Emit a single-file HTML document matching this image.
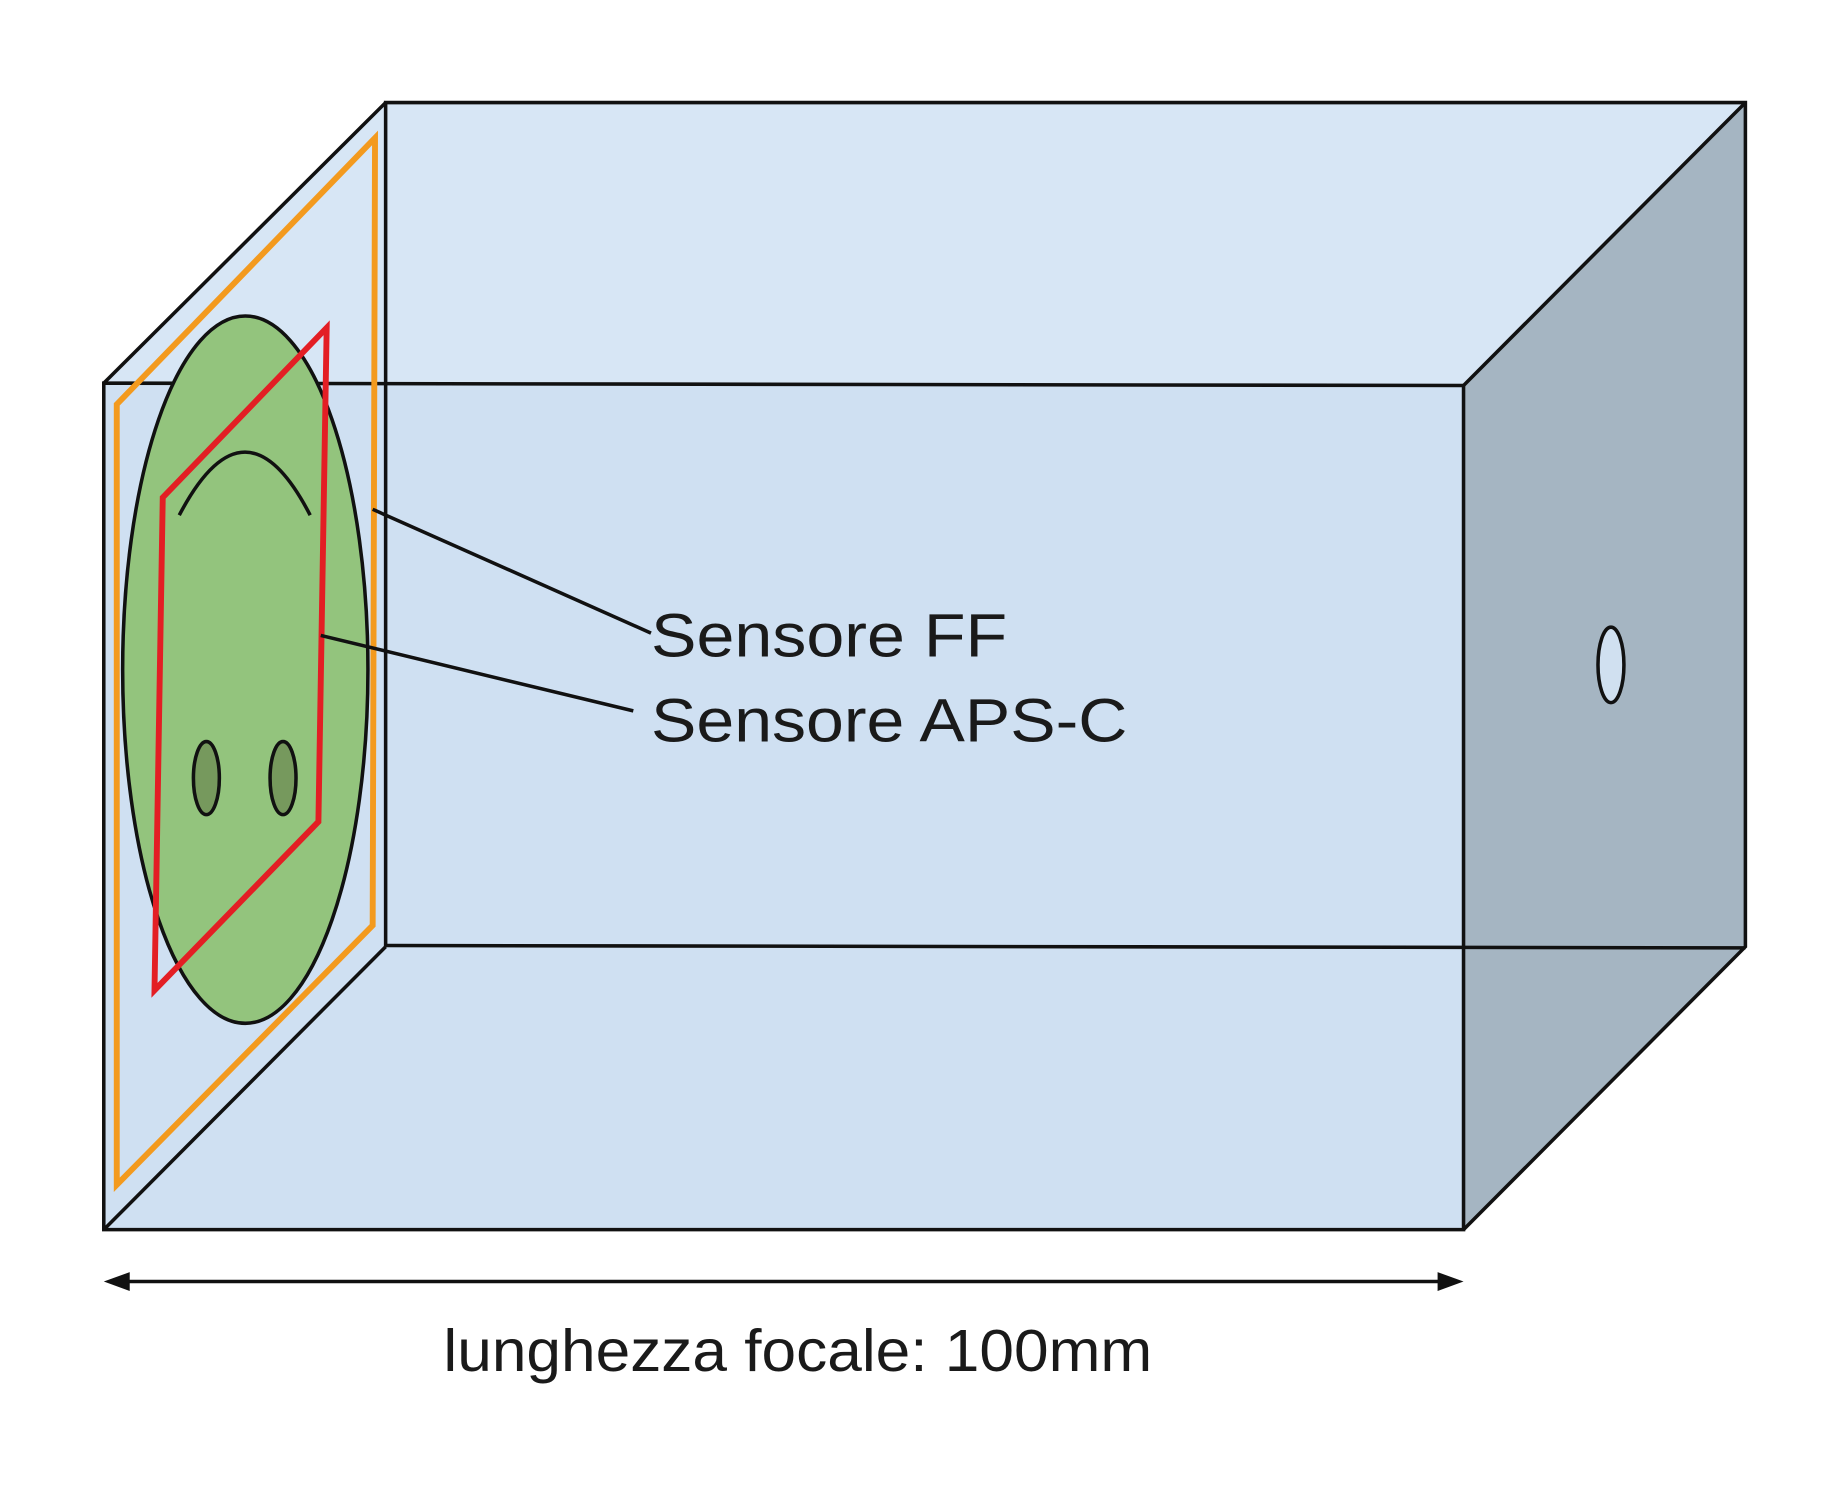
<!DOCTYPE html>
<html><head><meta charset="utf-8"><style>html,body{margin:0;padding:0;background:#fff}svg{display:block}</style></head>
<body>
<svg width="1848" height="1485" viewBox="0 0 1567 1259.6" preserveAspectRatio="none" xmlns="http://www.w3.org/2000/svg">
<rect width="1567" height="1260" fill="#fff"/>
<polygon points="88,325 327,87 1480,87 1241,327" fill="#d7e6f5"/>
<polygon points="88,325 1241,327 1241,1043 88,1043" fill="#cfe0f2"/>
<polygon points="1241,327 1480,87 1480,803 1241,1043" fill="#a5b5c2"/>
<g stroke="#111" stroke-width="3" fill="none">
<polyline points="327,803 327,87 1480,87 1480,803 1241,1043"/>
<line x1="327" y1="802" x2="1480" y2="804"/>
<line x1="88" y1="325" x2="327" y2="87"/>
<line x1="1241" y1="327" x2="1480" y2="87"/>
<line x1="88" y1="1043" x2="327" y2="803"/>
<polygon points="88,325 1241,327 1241,1043 88,1043"/>
</g>
<ellipse cx="208" cy="568" rx="104" ry="300" fill="#93c47d" stroke="#111" stroke-width="3"/>
<path d="M152,437 Q208,330 263,437" fill="none" stroke="#111" stroke-width="3"/>
<ellipse cx="175" cy="660" rx="11" ry="31" fill="#76995d" stroke="#111" stroke-width="3"/>
<ellipse cx="240" cy="660" rx="11" ry="31" fill="#76995d" stroke="#111" stroke-width="3"/>
<polygon points="99,343 318,117 316,785 99,1005" fill="none" stroke="#f39a1e" stroke-width="5"/>
<polygon points="138,422 277,278 270,697 131,840" fill="none" stroke="#e31e24" stroke-width="5"/>
<ellipse cx="1366" cy="564" rx="11" ry="32" fill="#d0e0f0" stroke="#111" stroke-width="3"/>
<g stroke="#111" stroke-width="3">
<line x1="316" y1="432" x2="552" y2="537"/>
<line x1="272" y1="539" x2="537" y2="603"/>
<line x1="100" y1="1087" x2="1228" y2="1087"/>
</g>
<polygon points="88,1087 110,1079 110,1095" fill="#111"/>
<polygon points="1241,1087 1219,1079 1219,1095" fill="#111"/>
<g font-family="Liberation Sans, sans-serif" fill="#1a1a1a" font-size="52">
<text x="552" y="557" textLength="302" lengthAdjust="spacingAndGlyphs">Sensore FF</text>
<text x="552" y="629" textLength="404" lengthAdjust="spacingAndGlyphs">Sensore APS-C</text>
<text x="376" y="1163" font-size="50" textLength="601" lengthAdjust="spacingAndGlyphs">lunghezza focale: 100mm</text>
</g>
</svg>
</body></html>
